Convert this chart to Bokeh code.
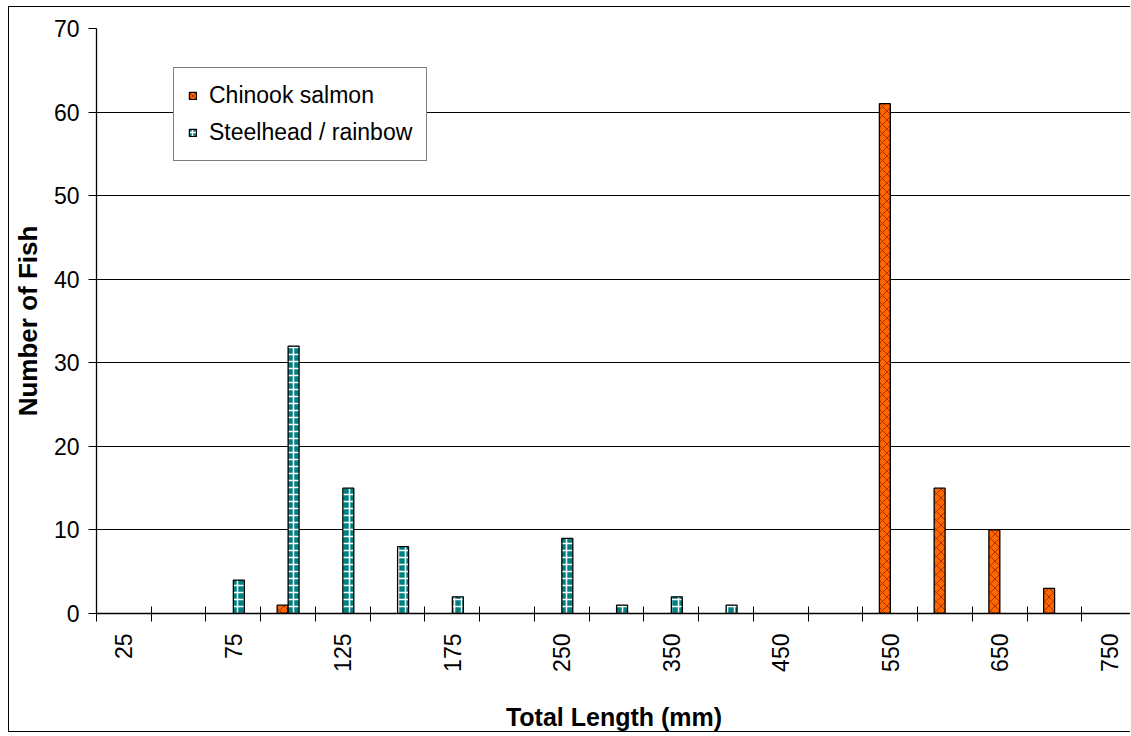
import math
from bokeh.plotting import figure
from bokeh.models import (ColumnDataSource, Range1d, FixedTicker, Legend,
                          LegendItem)
from bokeh.embed import file_html
from bokeh.resources import INLINE

# ---- data ----
categories = ["25", "50", "75", "100", "125", "150", "175", "200", "250", "300",
              "350", "400", "450", "500", "550", "600", "650", "700", "750"]
chinook = [0, 0, 0, 1, 0, 0, 0, 0, 0, 0, 0, 0, 0, 0, 61, 15, 10, 3, 0]
steelhead = [0, 0, 4, 32, 15, 8, 2, 0, 9, 1, 2, 1, 0, 0, 0, 0, 0, 0, 0]
shown_labels = ["25", "75", "125", "175", "250", "350", "450", "550", "650", "750"]
y_ticks = [0, 10, 20, 30, 40, 50, 60, 70]
series_names = ["Chinook salmon", "Steelhead / rainbow"]

FONT = "Liberation Sans"
BAR_W = 0.2
TEAL = "#008080"

src_ch = ColumnDataSource(dict(
    x=[i + 0.5 - BAR_W / 2 for i, v in enumerate(chinook) if v > 0],
    top=[v for v in chinook if v > 0]))
src_st = ColumnDataSource(dict(
    x=[i + 0.5 + BAR_W / 2 for i, v in enumerate(steelhead) if v > 0],
    top=[v for v in steelhead if v > 0]))

p = figure(width=1122, height=726, output_backend="svg", toolbar_location=None,
           x_range=Range1d(0, 18.905), y_range=Range1d(0, 70),
           min_border_left=86, min_border_right=0, min_border_top=21,
           min_border_bottom=120)
p.styles = {"margin-left": "8px", "margin-top": "6px",
            "border-left": "1px solid black", "border-top": "1px solid black",
            "border-bottom": "1px solid black"}
p.outline_line_color = None
p.background_fill_color = "white"
p.border_fill_color = "white"

r1 = p.vbar(x="x", top="top", width=BAR_W, source=src_ch,
            fill_color="#FF6600", line_color="black", line_width=1.3,
            hatch_pattern="diagonal_cross", hatch_color="#A83200",
            hatch_scale=9, hatch_weight=1)
r2 = p.vbar(x="x", top="top", width=BAR_W, source=src_st,
            fill_color=TEAL, line_color="black", line_width=1.3,
            hatch_pattern="cross", hatch_color="white",
            hatch_scale=7, hatch_weight=1.5)

# ---- axes ----
xa = p.xaxis[0]
centers = [i + 0.5 for i, c in enumerate(categories) if c in shown_labels]
xa.ticker = FixedTicker(ticks=centers,
                        minor_ticks=list(range(len(categories) + 1)))
xa.major_label_overrides = {i + 0.5: c for i, c in enumerate(categories)
                            if c in shown_labels}
xa.major_label_orientation = math.pi / 2
xa.major_tick_in = 0
xa.major_tick_out = 0
xa.minor_tick_in = 7
xa.minor_tick_out = 8
xa.minor_tick_line_color = "black"
xa.axis_line_color = "black"
xa.axis_line_width = 1.3
xa.major_label_standoff = 12
xa.major_label_text_font = FONT
xa.major_label_text_font_size = "23px"
xa.major_label_text_color = "black"
xa.axis_label = "Total Length (mm)"
xa.axis_label_text_font = FONT
xa.axis_label_text_font_style = "bold"
xa.axis_label_text_font_size = "25px"
xa.axis_label_text_color = "black"
xa.axis_label_standoff = 28

ya = p.yaxis[0]
ya.ticker = FixedTicker(ticks=y_ticks, minor_ticks=[])
ya.major_tick_in = 0
ya.major_tick_out = 8
ya.major_tick_line_color = "black"
ya.axis_line_color = "black"
ya.axis_line_width = 1.3
ya.major_label_standoff = 9
ya.major_label_text_font = FONT
ya.major_label_text_font_size = "23px"
ya.major_label_text_color = "black"
ya.axis_label = "Number of Fish"
ya.axis_label_text_font = FONT
ya.axis_label_text_font_style = "bold"
ya.axis_label_text_font_size = "26px"
ya.axis_label_text_color = "black"
ya.axis_label_standoff = 8

p.xgrid.visible = False
p.ygrid.ticker = FixedTicker(ticks=y_ticks)
p.ygrid.grid_line_color = "black"
p.ygrid.grid_line_width = 1

legend = Legend(items=[LegendItem(label=series_names[0], renderers=[r1]),
                       LegendItem(label=series_names[1], renderers=[r2])],
                location=(77, 452))
legend.label_text_font = FONT
legend.label_text_font_size = "23px"
legend.label_text_color = "black"
legend.border_line_color = "black"
legend.border_line_width = 1
legend.background_fill_color = "white"
legend.background_fill_alpha = 1
legend.padding = 14
legend.spacing = 10
legend.margin = 0
legend.glyph_width = 9
legend.glyph_height = 9
legend.label_standoff = 12
p.add_layout(legend)

open("out.html", "w").write(file_html(p, INLINE))
